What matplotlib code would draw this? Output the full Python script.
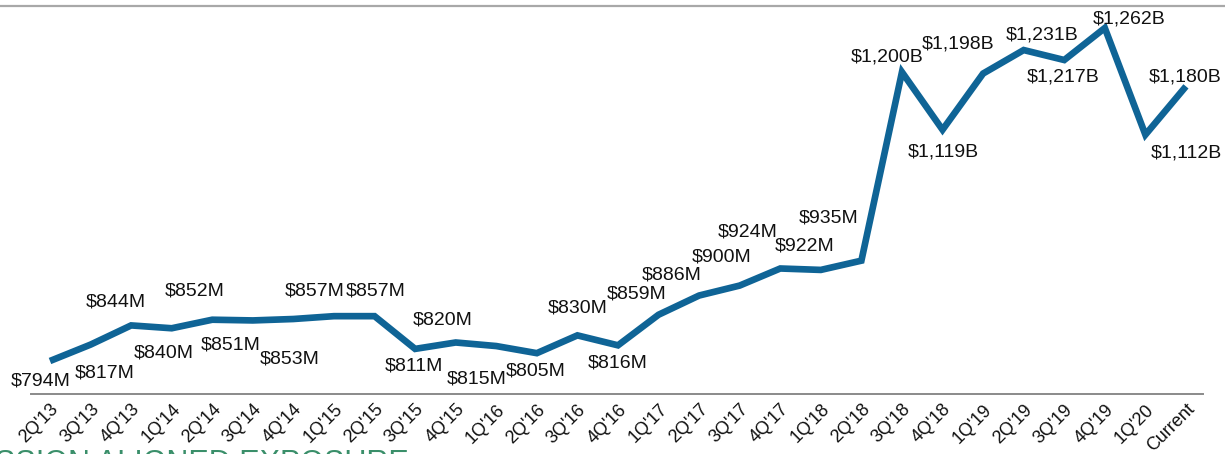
import matplotlib.pyplot as plt
from matplotlib.lines import Line2D

quarters = ["2Q'13", "3Q'13", "4Q'13", "1Q'14", "2Q'14", "3Q'14", "4Q'14",
            "1Q'15", "2Q'15", "3Q'15", "4Q'15", "1Q'16", "2Q'16", "3Q'16",
            "4Q'16", "1Q'17", "2Q'17", "3Q'17", "4Q'17", "1Q'18", "2Q'18",
            "3Q'18", "4Q'18", "1Q'19", "2Q'19", "3Q'19", "4Q'19", "1Q'20",
            "Current"]
# exposure in $M
exposure = [794, 817, 844, 840, 852, 851, 853, 857, 857, 811, 820, 815, 805,
            830, 816, 859, 886, 900, 924, 922, 935, 1200, 1119, 1198, 1231,
            1217, 1262, 1112, 1180]

# label placement relative to the point, in pixels (dx right, dy down)
label_offsets = [(-9, 20), (14, 28), (-15, -23), (-8, 25), (-18, -29),
                 (-22, 25), (-4, 40), (-19, -25), (1, -25), (-1, 17),
                 (-13, -22), (-20, 33), (-1, 18), (0, -27), (0, 18),
                 (-22, -21), (-27, -21), (-18, -29), (-33, -36), (-16, -24),
                 (-33, -43), (-15, -15), (1, 22), (-25, -30), (18, -15),
                 (-1, 17), (24, -9), (41, 18), (-1, -9)]


def fmt(v):
    return f'${v}M' if v < 1000 else f'${v:,}B'


plt.rcParams['font.family'] = ['Liberation Sans', 'DejaVu Sans']

fig = plt.figure(figsize=(12.25, 4.54), dpi=100)
ax = fig.add_axes([31 / 1225, 60 / 454, 1172 / 1225, 384 / 454])

x = list(range(len(quarters)))
ax.plot(x, exposure, color='#0f6496', lw=4.8, solid_joinstyle='miter',
        solid_capstyle='butt')

for i, v in enumerate(exposure):
    dx, dy = label_offsets[i]
    ax.annotate(fmt(v), (i, v), xytext=(dx * 0.72, -dy * 0.72),
                textcoords='offset points', ha='center', va='center',
                fontsize=14, color='#111111', annotation_clip=False)

ax.set_xlim(-0.468, 28.42)
ax.set_ylim(747.6, 1287.3)
ax.set_yticks([])
ax.set_xticks(x)
ax.set_xticklabels(quarters, rotation=45, ha='right', rotation_mode='anchor',
                   fontsize=13, color='#111111')
ax.tick_params(axis='x', length=0, pad=5)
for s in ['top', 'left', 'right']:
    ax.spines[s].set_visible(False)
ax.spines['bottom'].set_color('#8a8a8a')
ax.spines['bottom'].set_linewidth(1.4)

# top rule across the page
fig.add_artist(Line2D([0, 1], [1 - 6 / 454, 1 - 6 / 454],
                      transform=fig.transFigure, color='#a8a8a8', lw=1.6))

# section heading cut off at the bottom edge
fig.text(-0.004, 1 - 449 / 454, 'SSION ALIGNED EXPOSURE', fontsize=22,
         color='#3a8f6a', ha='left', va='top')

plt.savefig('out.png', dpi=100)
